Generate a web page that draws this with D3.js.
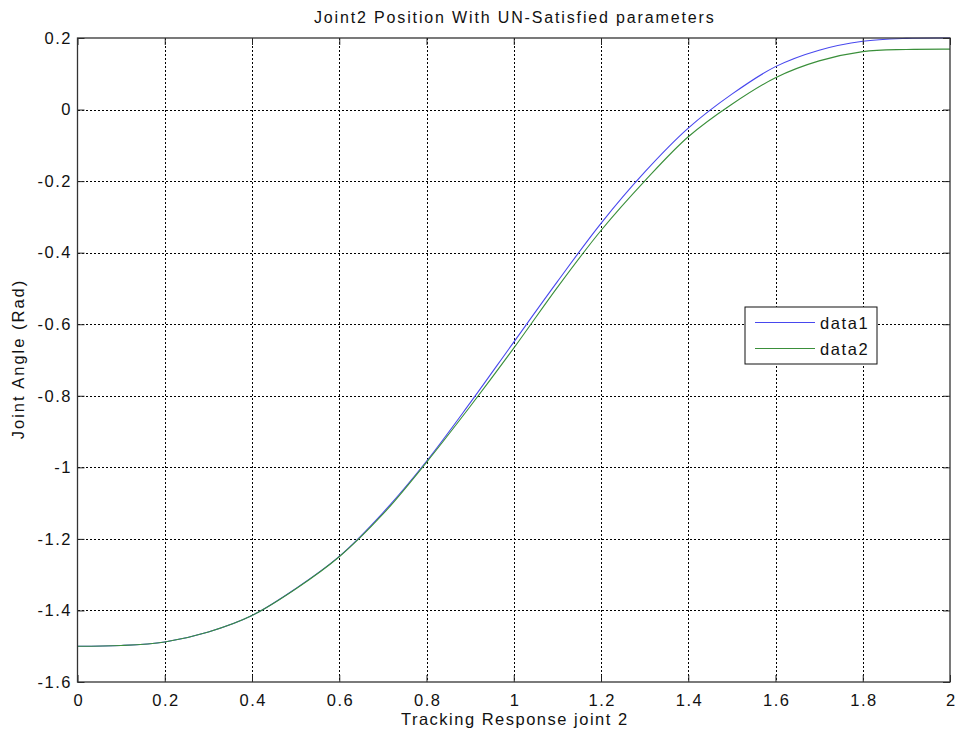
<!DOCTYPE html>
<html>
<head>
<meta charset="utf-8">
<script src="https://cdn.jsdelivr.net/npm/d3@7"></script>
<style>
  html, body { margin: 0; padding: 0; background: #fff; }
  svg { display: block; font-family: "Liberation Sans", Arial, sans-serif; }
</style>
</head>
<body>
<svg id="chart" width="960" height="735"></svg>
<script>
// Time samples (s)
const timeSamples = [0, 0.1, 0.2, 0.3, 0.4, 0.5, 0.6, 0.7, 0.8, 0.9, 1.0,
                     1.1, 1.2, 1.3, 1.4, 1.5, 1.6, 1.7, 1.8, 1.9, 2.0];
// Joint angle, series 1 (rad)
const data1Values = [-1.500, -1.498, -1.488, -1.460, -1.414, -1.339, -1.249, -1.127, -0.983, -0.820, -0.650,
                     -0.481, -0.318, -0.175, -0.052, 0.043, 0.120, 0.166, 0.191, 0.199, 0.200];
// Joint angle, series 2 (rad)
const data2Values = [-1.500, -1.498, -1.488, -1.460, -1.414, -1.340, -1.250, -1.131, -0.986, -0.830, -0.667,
                     -0.497, -0.338, -0.200, -0.076, 0.015, 0.089, 0.136, 0.162, 0.168, 0.169];
const seriesNames = ["data1", "data2"];
const xTicks = [0, 0.2, 0.4, 0.6, 0.8, 1, 1.2, 1.4, 1.6, 1.8, 2];
const yTicks = [-1.6, -1.4, -1.2, -1, -0.8, -0.6, -0.4, -0.2, 0, 0.2];
const titleText = "Joint2 Position With UN-Satisfied parameters";
const xLabelText = "Tracking Response joint 2";
const yLabelText = "Joint Angle (Rad)";

const colors = ["#4848ee", "#3a8f3a"];

const svg = d3.select("#chart");
const plot = { left: 77.5, right: 950, top: 38, bottom: 682 };

const x = d3.scaleLinear().domain([0, 2]).range([plot.left, plot.right]);
const y = d3.scaleLinear().domain([-1.6, 0.2]).range([plot.bottom, plot.top]);

const fmt = d => (Math.abs(d) < 1e-9 ? "0" : String(+d.toFixed(1)));

// Dotted grid
const grid = svg.append("g").attr("stroke", "#000").attr("stroke-width", 1)
  .attr("stroke-dasharray", "2,2").attr("shape-rendering", "crispEdges");
grid.selectAll("line.gx").data(xTicks.slice(1, -1)).join("line")
  .attr("x1", d => Math.round(x(d)) + 0.5).attr("x2", d => Math.round(x(d)) + 0.5)
  .attr("y1", plot.top).attr("y2", plot.bottom);
grid.selectAll("line.gy").data(yTicks.slice(1, -1)).join("line")
  .attr("y1", d => Math.round(y(d)) + 0.5).attr("y2", d => Math.round(y(d)) + 0.5)
  .attr("x1", plot.left).attr("x2", plot.right);

// Data lines
const series = [data1Values, data2Values];
const line = d3.line().x((d, i) => x(timeSamples[i])).y(d => y(d)).curve(d3.curveCatmullRom.alpha(0.5));
svg.append("g").selectAll("path").data(series).join("path")
  .attr("fill", "none")
  .attr("stroke", (d, i) => colors[i])
  .attr("stroke-width", 1.1)
  .attr("d", line);

// Axes (ticks point inward, box on all sides)
const tickLen = 7;
const axisBottom = d3.axisBottom(x).tickValues(xTicks).tickFormat(fmt).tickSizeInner(-tickLen).tickSizeOuter(0).tickPadding(12);
const axisLeft = d3.axisLeft(y).tickValues(yTicks).tickFormat(fmt).tickSizeInner(-tickLen).tickSizeOuter(0).tickPadding(5.5);
const axisTop = d3.axisTop(x).tickValues(xTicks).tickFormat("").tickSizeInner(-tickLen).tickSizeOuter(0);
const axisRight = d3.axisRight(y).tickValues(yTicks).tickFormat("").tickSizeInner(-tickLen).tickSizeOuter(0);

function styleAxis(g) {
  g.select(".domain").remove();
  g.selectAll(".tick line").attr("stroke", "#222");
  g.selectAll(".tick text").attr("fill", "#111").style("font-size", "16.5px").style("letter-spacing", "1.5px");
}
svg.append("g").attr("transform", `translate(0,${plot.bottom})`).call(axisBottom).call(styleAxis)
  .selectAll(".tick text").attr("dx", "0.75px");
svg.append("g").attr("transform", `translate(${plot.left},0)`).call(axisLeft).call(styleAxis);
svg.append("g").attr("transform", `translate(0,${plot.top})`).call(axisTop).call(styleAxis);
svg.append("g").attr("transform", `translate(${plot.right},0)`).call(axisRight).call(styleAxis);

// Box
svg.append("rect")
  .attr("x", plot.left).attr("y", plot.top)
  .attr("width", plot.right - plot.left).attr("height", plot.bottom - plot.top)
  .attr("fill", "none").attr("stroke", "#333").attr("stroke-width", 1.3);

// Title and axis labels
svg.append("text").attr("x", (plot.left + plot.right) / 2 + 1).attr("y", 23)
  .attr("text-anchor", "middle").style("font-size", "16px").style("letter-spacing", "1.85px")
  .attr("fill", "#111").text(titleText);
svg.append("text").attr("x", (plot.left + plot.right) / 2 + 1).attr("y", 725)
  .attr("text-anchor", "middle").style("font-size", "16.5px").style("letter-spacing", "1.5px")
  .attr("fill", "#111").text(xLabelText);
svg.append("text").attr("transform", `translate(24,${(plot.top + plot.bottom) / 2 - 1}) rotate(-90)`)
  .attr("text-anchor", "middle").style("font-size", "16.5px").style("letter-spacing", "2px")
  .attr("fill", "#111").text(yLabelText);

// Legend
const legend = svg.append("g").attr("transform", "translate(745,307)");
legend.append("rect").attr("width", 132).attr("height", 57)
  .attr("fill", "#fff").attr("stroke", "#111").attr("stroke-width", 1);
seriesNames.forEach((name, i) => {
  const ly = 15.5 + i * 26;
  legend.append("line").attr("x1", 10).attr("x2", 70).attr("y1", ly).attr("y2", ly)
    .attr("stroke", colors[i]).attr("stroke-width", 1.1);
  legend.append("text").attr("x", 75).attr("y", ly + 6).style("font-size", "16.5px")
    .style("letter-spacing", "1.6px").attr("fill", "#111").text(name);
});
</script>
</body>
</html>
